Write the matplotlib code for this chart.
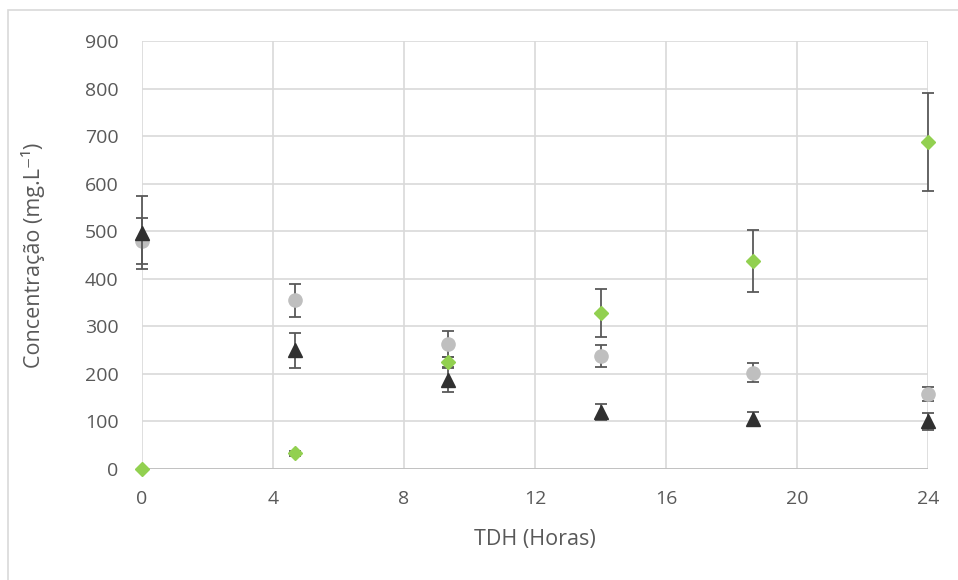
import matplotlib.pyplot as plt
from matplotlib.patches import Rectangle

plt.rcParams['font.family'] = ['Open Sans', 'DejaVu Sans']

# TDH (horas)
tdh = [0, 4.67, 9.33, 14, 18.67, 24]

# series: values and error (+/-)
circ_vals = [480, 355, 263, 238, 202, 157]
circ_err = [48, 35, 27, 23, 20, 15]

tri_vals = [497, 250, 187, 120, 105, 100]
tri_err = [77, 37, 25, 17, 15, 17]

dia_vals = [0, 33, 225, 328, 437, 688]
dia_err = [0, 5, 10, 50, 65, 103]

x_ticks = [0, 4, 8, 12, 16, 20, 24]
y_ticks = [0, 100, 200, 300, 400, 500, 600, 700, 800, 900]

fig = plt.figure(figsize=(9.58, 5.8), dpi=100)
ax = fig.add_axes([142 / 958, 1 - 469 / 580, (928 - 142) / 958, (469 - 41) / 580])

err_kw = dict(ecolor='#595959', elinewidth=1.3, capsize=4.5, capthick=1.3,
              linestyle='none', clip_on=False)

ax.errorbar(tdh, circ_vals, yerr=circ_err, marker='o', markersize=9.5,
            color='#bfbfbf', markeredgecolor='#bfbfbf', zorder=3, **err_kw)
ax.errorbar(tdh, tri_vals, yerr=tri_err, marker='^', markersize=9.5,
            color='#303030', markeredgecolor='#303030', zorder=4, **err_kw)
ax.errorbar(tdh, dia_vals, yerr=dia_err, marker='D', markersize=7,
            color='#92d050', markeredgecolor='#92d050', zorder=5, **err_kw)

ax.set_xlim(0, 24)
ax.set_ylim(0, 900)
ax.set_xticks(x_ticks)
ax.set_yticks(y_ticks)
ax.grid(True, color='#d9d9d9', linewidth=1.2, zorder=0)
ax.set_axisbelow(True)
for s in ax.spines.values():
    s.set_visible(False)
ax.axhline(0, color='#bfbfbf', linewidth=1.3, zorder=1)
ax.tick_params(length=0, labelsize=14, labelcolor='#595959')
ax.tick_params(axis='x', pad=15)
ax.tick_params(axis='y', pad=17)

ax.set_xlabel('TDH (Horas)', fontsize=15.5, color='#595959')
ax.set_ylabel('Concentração (mg.L⁻¹)', fontsize=15.5, color='#595959')
ax.xaxis.set_label_coords(0.5, (469 - 540) / 428, transform=ax.transAxes)
ax.yaxis.set_label_coords((33 - 142) / 786, 0.5, transform=ax.transAxes)
ax.xaxis.label.set_va('center')
ax.yaxis.label.set_va('center')

# chart border
fig.patches.append(Rectangle((8 / 958, -0.01), 1, 1 - 10 / 580 + 0.01, transform=fig.transFigure,
                             fill=False, edgecolor='#d9d9d9', linewidth=1.2))

fig.savefig('out.png', dpi=100)
